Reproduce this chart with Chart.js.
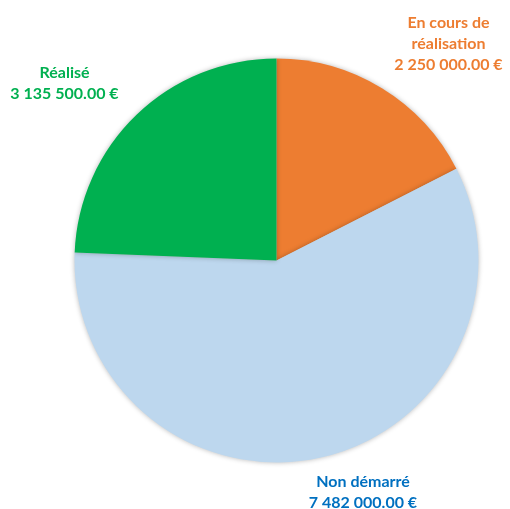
<!DOCTYPE html>
<html>
<head>
<meta charset="utf-8">
<script src="https://cdn.jsdelivr.net/npm/chart.js@4.4.0/dist/chart.umd.min.js"></script>
<style>
  html, body { margin: 0; padding: 0; background: #ffffff; }
  #wrap { width: 510px; height: 509px; position: relative; }
</style>
</head>
<body>
<div id="wrap"><canvas id="pieChart"></canvas></div>
<script>
// data, clockwise from 12 o'clock
const categories = [["En cours de", "réalisation"], ["Non démarré"], ["Réalisé"]];
const amounts = [2250000, 7482000, 3135500];
const sliceColors = ["#ED7D31", "#BDD7EE", "#00B050"];
const labelColors = ["#ED7D31", "#0070C0", "#00B050"];

/* ===============================
   MONEY FORMAT  (2 250 000.00 €)
   =============================== */
function formatEuro(v) {
  const parts = v.toFixed(2).split(".");
  const intPart = parts[0].replace(/\B(?=(\d{3})+(?!\d))/g, " ");
  return intPart + "." + parts[1] + " €";
}

/* ===============================
   SOFT SHADOW UNDER THE PIE
   =============================== */
const pieShadow = {
  id: "pieShadow",
  beforeDatasetsDraw(chart) {
    const ctx = chart.ctx;
    ctx.save();
    ctx.shadowColor = "rgba(0,0,0,0.28)";
    ctx.shadowBlur = 5;
    ctx.shadowOffsetX = 0;
    ctx.shadowOffsetY = 0;
  },
  afterDatasetsDraw(chart) {
    chart.ctx.restore();
  }
};

/* ===============================
   OUTSIDE LABELS
   =============================== */
const outsideLabels = {
  id: "outsideLabels",
  afterDraw(chart, args, opts) {
    const ctx = chart.ctx;
    const meta = chart.getDatasetMeta(0);
    const lineH = opts.lineHeight;
    ctx.save();
    ctx.font = opts.font;
    ctx.textAlign = "center";
    ctx.textBaseline = "alphabetic";

    meta.data.forEach((arc, i) => {
      const off = opts.offsets[i];
      const cx = arc.x + off.dx;
      const cy = arc.y + off.dy;
      const lines = [].concat(chart.data.labels[i], formatEuro(chart.data.datasets[0].data[i]));
      ctx.fillStyle = labelColors[i];
      lines.forEach((txt, k) => {
        ctx.fillText(txt, cx, cy + k * lineH);
      });
    });
    ctx.restore();
  }
};

new Chart(document.getElementById("pieChart").getContext("2d"), {
  type: "pie",
  data: {
    labels: categories,
    datasets: [{
      data: amounts,
      backgroundColor: sliceColors,
      borderWidth: 0,
      hoverOffset: 0
    }]
  },
  options: {
    responsive: true,
    maintainAspectRatio: false,
    animation: false,
    layout: {
      padding: { left: 74.5, right: 31.5, top: 58.5, bottom: 46.5 }
    },
    plugins: {
      legend: { display: false },
      tooltip: { enabled: false },
      outsideLabels: {
        font: "bold 16px Lato",
        lineHeight: 21,
        // first-line baseline, relative to pie centre
        offsets: [
          { dx: 172, dy: -233 },
          { dx: 86.5, dy: 226 },
          { dx: -212, dy: -183 }
        ]
      }
    }
  },
  plugins: [pieShadow, outsideLabels]
});
</script>
</body>
</html>
